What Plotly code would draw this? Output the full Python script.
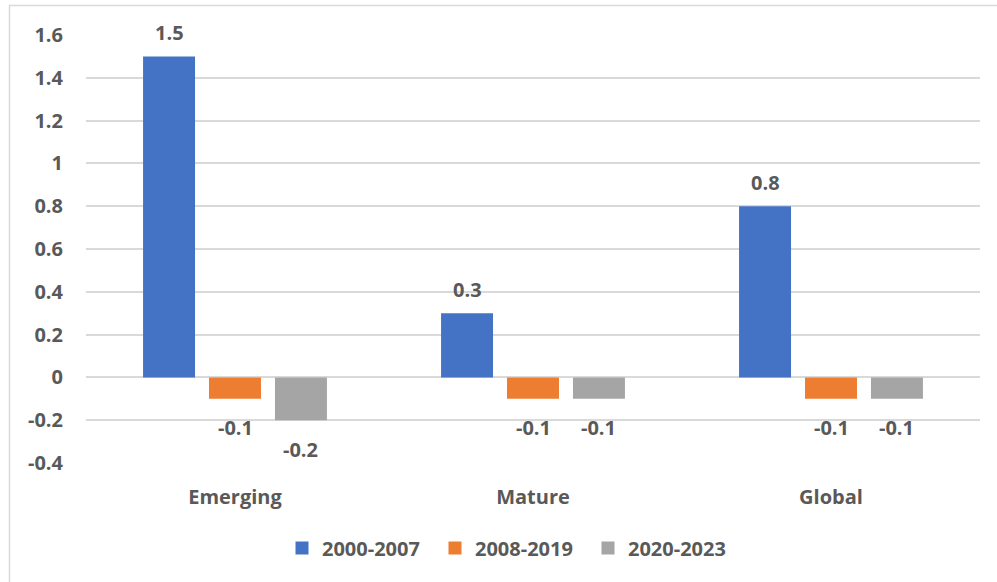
import plotly.graph_objects as go

# Categories and series values
categories = ["Emerging", "Mature", "Global"]
series_names = ["2000-2007", "2008-2019", "2020-2023"]
values_2000_2007 = [1.5, 0.3, 0.8]
values_2008_2019 = [-0.1, -0.1, -0.1]
values_2020_2023 = [-0.2, -0.1, -0.1]
series_values = [values_2000_2007, values_2008_2019, values_2020_2023]
colors = ["#4472C4", "#ED7D31", "#A5A5A5"]

y_ticks = [-0.4, -0.2, 0, 0.2, 0.4, 0.6, 0.8, 1, 1.2, 1.4, 1.6]

W, H = 997, 582
ML, MR, MT, MB = 86, 17, 35, 119
BARGAP = 0.336
BARGROUPGAP = 0.212

TEXT = "#595959"
GRID = "#D9D9D9"
FONT = "Open Sans"
FS = 20

fig = go.Figure()
for name, vals, col in zip(series_names, series_values, colors):
    fig.add_trace(go.Bar(
        name=name, x=categories, y=vals, showlegend=False,
        marker=dict(color=col, line=dict(width=0)),
    ))

# Legend entries with square swatches
for name, col in zip(series_names, colors):
    fig.add_trace(go.Scatter(
        name=name, x=[None], y=[None], mode="markers",
        marker=dict(symbol="square", size=13, color=col),
    ))

# Value labels placed at each bar's end, offset to each bar's slot in the group
plot_w = W - ML - MR
slot = plot_w / len(categories) * (1 - BARGAP) / len(series_names)
annotations = []
for i, vals in enumerate(series_values):
    dx = (i - (len(series_names) - 1) / 2) * slot
    for cat, v in zip(categories, vals):
        annotations.append(dict(
            x=cat, y=v, xref="x", yref="y",
            text=f"{v:g}", showarrow=False,
            xshift=dx, yshift=24 if v >= 0 else -29,
            xanchor="center", yanchor="middle",
            font=dict(family=FONT, size=FS, color=TEXT, weight="bold"),
        ))

# Chart-area frame (light gray)
px2x = lambda p: (p - ML) / plot_w
px2y = lambda p: (H - MB - p) / (H - MT - MB)
shapes = [dict(
    type="rect", xref="paper", yref="paper",
    x0=px2x(9.5), x1=px2x(1030), y0=px2y(5.5), y1=px2y(620),
    line=dict(color=GRID, width=1.5), fillcolor="rgba(0,0,0,0)", layer="below",
)]

fig.update_layout(
    width=W, height=H,
    margin=dict(l=ML, r=MR, t=MT, b=MB, autoexpand=False),
    paper_bgcolor="white", plot_bgcolor="white",
    barmode="group", bargap=BARGAP, bargroupgap=BARGROUPGAP,
    font=dict(family=FONT, size=FS, color=TEXT, weight="bold"),
    annotations=annotations, shapes=shapes,
    showlegend=True,
    legend=dict(
        orientation="h", x=px2x(282), xanchor="left",
        y=px2y(548), yanchor="middle",
        font=dict(family=FONT, size=FS, color=TEXT, weight="bold"),
        itemwidth=30, entrywidth=108, entrywidthmode="pixels",
        bgcolor="rgba(0,0,0,0)",
    ),
    xaxis=dict(
        showgrid=False, showline=False, ticks="",
        ticklabelstandoff=20,
        tickfont=dict(family=FONT, size=FS, color=TEXT, weight="bold"),
    ),
    yaxis=dict(
        range=[-0.4, 1.6], tickvals=y_ticks,
        ticktext=[f"{t:g}" for t in y_ticks],
        showgrid=True, gridcolor=GRID, gridwidth=1.5,
        zeroline=True, zerolinecolor=GRID, zerolinewidth=1.5,
        showline=False, ticks="", ticklabelstandoff=22,
        tickfont=dict(family=FONT, size=FS, color=TEXT, weight="bold"),
    ),
)

fig.write_html("out.html")
